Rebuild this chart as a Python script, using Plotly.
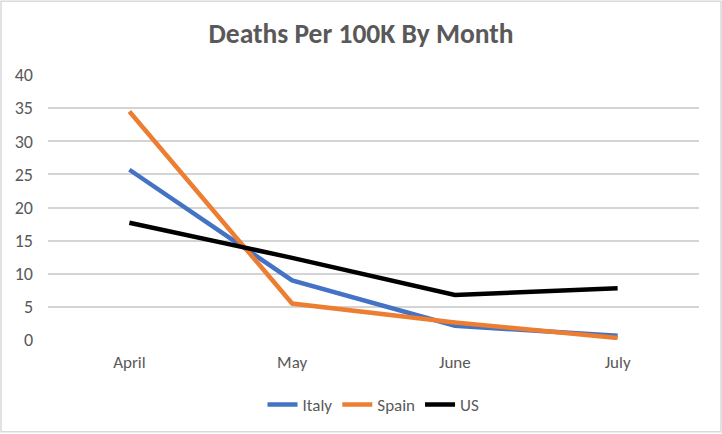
import plotly.graph_objects as go

months = ["April", "May", "June", "July"]
italy = [25.7, 9.0, 2.15, 0.65]
spain = [34.5, 5.5, 2.65, 0.3]
us = [17.7, 12.4, 6.8, 7.8]
y_ticks = [0, 5, 10, 15, 20, 25, 30, 35, 40]

FONT = "Calibri, Carlito, Lato, sans-serif"
W, H = 722, 434
ml, mr, mt, mb = 48, 23, 75, 93
pw, ph = W - ml - mr, H - mt - mb

fig = go.Figure()
for name, vals, col in [("Italy", italy, "#4472C4"), ("Spain", spain, "#ED7D31"), ("US", us, "#000000")]:
    fig.add_trace(go.Scatter(x=months, y=vals, name=name, mode="lines",
                             line=dict(color=col, width=4.5)))

fig.update_layout(
    width=W, height=H,
    margin=dict(l=ml, r=mr, t=mt, b=mb),
    paper_bgcolor="white", plot_bgcolor="white",
    font=dict(family=FONT, color="#595959", size=17),
    title=dict(text="<b>Deaths Per 100K By Month</b>", x=0.5, xanchor="center",
               y=1 - 33 / H, yanchor="middle",
               font=dict(family=FONT, size=27.5, color="#595959")),
    xaxis=dict(type="category", range=[-0.5, 3.5], showgrid=False, showline=False,
               ticks="", ticklabelstandoff=10, tickfont=dict(size=17)),
    yaxis=dict(range=[0, 40], tickvals=y_ticks, showgrid=True, gridcolor="#D4D4D4",
               gridwidth=1.6, zeroline=False, showline=False, ticks="",
               ticklabelstandoff=14, tickfont=dict(size=18)),
    legend=dict(orientation="h", x=0.5, xanchor="center", y=-(405 - mt - ph) / ph,
                yanchor="middle", font=dict(size=17), itemwidth=30, tracegroupgap=0),
    showlegend=True,
    shapes=[dict(type="rect", xref="paper", yref="paper",
                 x0=-(ml - 1) / pw, x1=1 + (mr - 1) / pw,
                 y0=-(mb - 1) / ph, y1=1 + (mt - 1) / ph,
                 line=dict(color="#D9D9D9", width=1.5), layer="below")],
)

fig.write_html("out.html", config={"displayModeBar": False},
               post_script="document.body.style.margin='0';")
